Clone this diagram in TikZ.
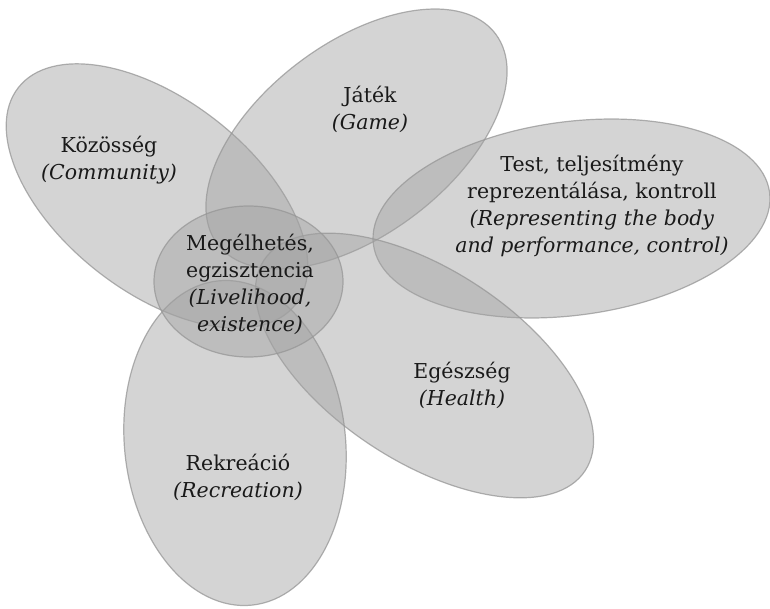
\documentclass[tikz,border=0pt]{standalone}
\usepackage{fontspec}
\setmainfont{DejaVu Serif}
\definecolor{petalfill}{RGB}{162,162,162}
\definecolor{petaledge}{RGB}{150,150,150}
\definecolor{lbltext}{RGB}{25,25,25}
\tikzset{
  petal/.style={fill=petalfill, fill opacity=0.46, draw=petaledge, draw opacity=0.75, line width=1.2pt},
  lbl/.style={align=center, inner sep=0pt, text=lbltext, font=\fontsize{20.5}{27}\selectfont}
}
\begin{document}
\begin{tikzpicture}
\useasboundingbox (0pt,0pt) rectangle (770pt,608pt);
% petals
\draw[petal, shift={(157pt,412pt)}, rotate=-38] (0,0) ellipse [x radius=176pt, y radius=96pt];
\draw[petal, shift={(356.5pt,469pt)}, rotate=37.1] (0,0) ellipse [x radius=174.3pt, y radius=95.8pt];
\draw[petal, shift={(571.5pt,389.5pt)}, rotate=7.5] (0,0) ellipse [x radius=199.8pt, y radius=96.8pt];
\draw[petal, shift={(424.5pt,242.5pt)}, rotate=-33.2] (0,0) ellipse [x radius=192pt, y radius=96pt];
\draw[petal, shift={(235pt,165pt)}, rotate=6] (0,0) ellipse [x radius=110.5pt, y radius=163pt];
\draw[petal] (248.5pt,326.5pt) ellipse [x radius=94.5pt, y radius=75.5pt];
% labels
\node[lbl] (kozosseg) at (109pt,448pt) {Közösség\\\textit{(Community)}};
\node[lbl] (jatek) at (370pt,499pt) {Játék\\\textit{(Game)}};
\node[lbl] (test) at (592pt,402pt) {Test, teljesítmény\\reprezentálása, kontroll\\\textit{(Representing the body}\\\textit{and performance, control)}};
\node[lbl] (megelhetes) at (250pt,324pt) {Megélhetés,\\egzisztencia\\\textit{(Livelihood,}\\\textit{existence)}};
\node[lbl] (egeszseg) at (462pt,223pt) {Egészség\\\textit{(Health)}};
\node[lbl] (rekreacio) at (238pt,131pt) {Rekreáció\\\textit{(Recreation)}};
\end{tikzpicture}
\end{document}
